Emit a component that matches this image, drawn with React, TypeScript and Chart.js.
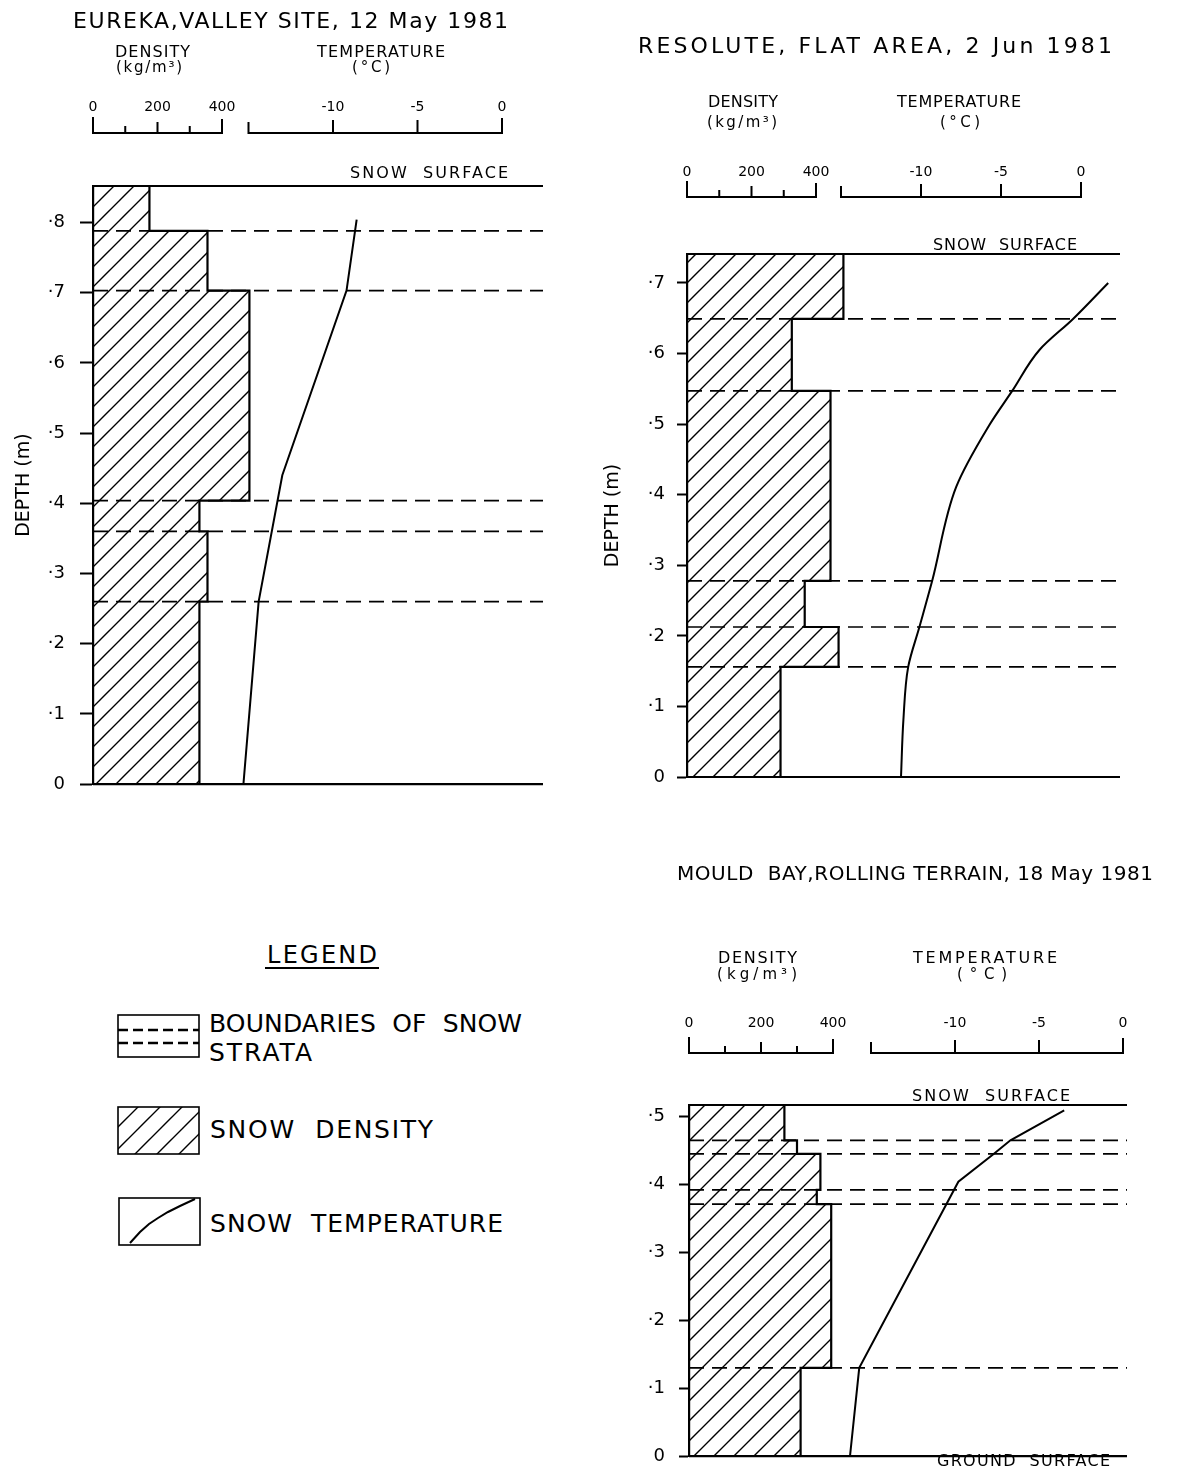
import React, { useEffect, useRef } from 'react';
import { Chart, registerables } from 'chart.js';

Chart.register(...registerables);

const FONT = '"DejaVu Sans", "Liberation Sans", sans-serif';

/* ---------------- data ---------------- */
// Eureka, valley site, 12 May 1981
const eurekaSurfaceDepth = 0.852;
const eurekaStrataBoundaries = [0.788, 0.703, 0.404, 0.36, 0.26];
const eurekaLayerDensities = [175, 355, 485, 330, 355, 330];
const eurekaTempDepths = [0.804, 0.703, 0.44, 0.26, 0];
const eurekaTemperatures = [-8.6, -9.2, -13.0, -14.4, -15.3];

// Resolute, flat area, 2 Jun 1981
const resoluteSurfaceDepth = 0.741;
const resoluteStrataBoundaries = [0.649, 0.547, 0.278, 0.2125, 0.156];
const resoluteLayerDensities = [485, 325, 445, 365, 470, 290];
const resoluteTempDepths = [0.7, 0.649, 0.605, 0.547, 0.496, 0.411, 0.278, 0.2125, 0.156, 0.081, 0];
const resoluteTemperatures = [1.7, -0.5, -2.6, -4.3, -5.8, -7.8, -9.3, -10.1, -10.8, -11.1, -11.25];

// Mould Bay, rolling terrain, 18 May 1981
const mouldSurfaceDepth = 0.517;
const mouldStrataBoundaries = [0.465, 0.445, 0.392, 0.371, 0.13];
const mouldLayerDensities = [265, 300, 365, 355, 395, 310];
const mouldTempDepths = [0.509, 0.465, 0.445, 0.404, 0.13, 0];
const mouldTemperatures = [-3.5, -6.7, -7.7, -9.8, -15.7, -16.25];

// ruler (top axis) ticks
const densityRulerTicks = [0, 100, 200, 300, 400];
const densityRulerLabels = [0, 200, 400];
const temperatureRulerTicks = [-15, -10, -5, 0];
const temperatureRulerLabels = [-10, -5, 0];
const depthTickStep = 0.1;

/* ---------------- layout / style ---------------- */
type TextBox = { text: string; x0: number; x1: number; y: number; size: number };
type Panel = {
  surface: number;
  boundaries: number[];
  densities: number[];
  tempDepths: number[];
  temps: number[];
  smooth: boolean;
  canvas: { left: number; top: number; width: number; height: number };
  area: { left: number; top: number; right: number; bottom: number };
  densityPx: number;
  tempZeroX: number;
  tempPx: number;
  yTickLen: number;
  yTickPad: number;
  yTitlePad: number | null;
  texts: TextBox[];
  rulerY: number;
  rulerLabelY: number;
  rulerFont: number;
};

const PANELS: Panel[] = [
  {
    surface: eurekaSurfaceDepth,
    boundaries: eurekaStrataBoundaries,
    densities: eurekaLayerDensities,
    tempDepths: eurekaTempDepths,
    temps: eurekaTemperatures,
    smooth: false,
    canvas: { left: 0, top: 0, width: 585, height: 810 },
    area: { left: 93, top: 186, right: 543, bottom: 785 },
    densityPx: 0.3225,
    tempZeroX: 502,
    tempPx: 16.9,
    yTickLen: 13,
    yTickPad: 15,
    yTitlePad: 12.6,
    texts: [
      { text: 'EUREKA,VALLEY SITE, 12 May 1981', x0: 73, x1: 508, y: 20, size: 22 },
      { text: 'DENSITY', x0: 115, x1: 190, y: 51, size: 16 },
      { text: '(kg/m³)', x0: 116, x1: 182, y: 67, size: 15 },
      { text: 'TEMPERATURE', x0: 317, x1: 445, y: 51, size: 16 },
      { text: '(°C)', x0: 352, x1: 390, y: 67, size: 15 },
      { text: 'SNOW  SURFACE', x0: 350, x1: 508, y: 172, size: 16 },
    ],
    rulerY: 133,
    rulerLabelY: 106,
    rulerFont: 14,
  },
  {
    surface: resoluteSurfaceDepth,
    boundaries: resoluteStrataBoundaries,
    densities: resoluteLayerDensities,
    tempDepths: resoluteTempDepths,
    temps: resoluteTemperatures,
    smooth: true,
    canvas: { left: 590, top: 0, width: 587, height: 800 },
    area: { left: 687, top: 254, right: 1120, bottom: 777 },
    densityPx: 0.3225,
    tempZeroX: 1081,
    tempPx: 16,
    yTickLen: 10,
    yTickPad: 12,
    yTitlePad: 11.6,
    texts: [
      { text: 'RESOLUTE, FLAT AREA, 2 Jun 1981', x0: 638, x1: 1112, y: 45, size: 22 },
      { text: 'DENSITY', x0: 708, x1: 778, y: 101, size: 16 },
      { text: '(kg/m³)', x0: 707, x1: 777, y: 122, size: 15 },
      { text: 'TEMPERATURE', x0: 897, x1: 1021, y: 101, size: 16 },
      { text: '(°C)', x0: 940, x1: 980, y: 122, size: 15 },
      { text: 'SNOW  SURFACE', x0: 933, x1: 1077, y: 244, size: 16 },
    ],
    rulerY: 197,
    rulerLabelY: 171,
    rulerFont: 14,
  },
  {
    surface: mouldSurfaceDepth,
    boundaries: mouldStrataBoundaries,
    densities: mouldLayerDensities,
    tempDepths: mouldTempDepths,
    temps: mouldTemperatures,
    smooth: false,
    canvas: { left: 590, top: 840, width: 587, height: 641 },
    area: { left: 689, top: 1105, right: 1127, bottom: 1470 },
    densityPx: 0.36,
    tempZeroX: 1123,
    tempPx: 16.8,
    yTickLen: 10,
    yTickPad: 14,
    yTitlePad: null,
    texts: [
      { text: 'MOULD  BAY,ROLLING TERRAIN, 18 May 1981', x0: 677, x1: 1153, y: 873, size: 20 },
      { text: 'DENSITY', x0: 718, x1: 797, y: 957, size: 16 },
      { text: '(kg/m³)', x0: 717, x1: 797, y: 974, size: 15 },
      { text: 'TEMPERATURE', x0: 913, x1: 1057, y: 957, size: 16 },
      { text: '(°C)', x0: 957, x1: 1007, y: 974, size: 15 },
      { text: 'SNOW  SURFACE', x0: 912, x1: 1070, y: 1095, size: 16 },
      { text: 'GROUND  SURFACE', x0: 937, x1: 1110, y: 1460, size: 16 },
    ],
    rulerY: 1053,
    rulerLabelY: 1022,
    rulerFont: 14,
  },
];

/* ---------------- helpers ---------------- */
function fitText(ctx: CanvasRenderingContext2D, text: string, x0: number, x1: number, yc: number, size: number) {
  ctx.save();
  ctx.font = `${size}px ${FONT}`;
  (ctx as any).letterSpacing = '0px';
  const w = ctx.measureText(text).width;
  const n = Array.from(text).length;
  const ls = n > 1 ? (x1 - x0 - w) / (n - 1) : 0;
  (ctx as any).letterSpacing = `${ls}px`;
  ctx.textAlign = 'left';
  ctx.textBaseline = 'alphabetic';
  ctx.fillText(text, x0, yc + 0.365 * size);
  (ctx as any).letterSpacing = '0px';
  ctx.restore();
}

function makeHatch(ctx: CanvasRenderingContext2D, s: number) {
  const c = document.createElement('canvas');
  c.width = s;
  c.height = s;
  const g = c.getContext('2d')!;
  g.strokeStyle = '#000';
  g.lineWidth = 1.4;
  g.beginPath();
  g.moveTo(-2, s + 2);
  g.lineTo(s + 2, -2);
  g.moveTo(-2, 2);
  g.lineTo(2, -2);
  g.moveTo(s - 2, s + 2);
  g.lineTo(s + 2, s - 2);
  g.stroke();
  return ctx.createPattern(c, 'repeat');
}

function fmtDepth(v: number) {
  if (Math.abs(v) < 1e-9) return '0';
  return '·' + Math.round(v * 10);
}

function drawDecor(chart: any, p: Panel) {
  const ctx: CanvasRenderingContext2D = chart.ctx;
  const ox = p.canvas.left;
  const oy = p.canvas.top;
  const xd = chart.scales.xd;
  const xt = chart.scales.xt;
  ctx.save();
  ctx.fillStyle = '#000';
  ctx.strokeStyle = '#000';
  for (const t of p.texts) fitText(ctx, t.text, t.x0 - ox, t.x1 - ox, t.y - oy, t.size);

  const yb = p.rulerY - oy;
  const yl = p.rulerLabelY - oy;
  ctx.lineWidth = 2;
  ctx.lineCap = 'square';
  // density ruler
  const d0 = xd.getPixelForValue(densityRulerTicks[0]);
  const d1 = xd.getPixelForValue(densityRulerTicks[densityRulerTicks.length - 1]);
  ctx.beginPath();
  ctx.moveTo(d0, yb);
  ctx.lineTo(d1, yb);
  for (const v of densityRulerTicks) {
    const x = xd.getPixelForValue(v);
    const h = v === 0 ? 15 : v === 400 ? 13 : v % 200 === 0 ? 10 : 6;
    ctx.moveTo(x, yb);
    ctx.lineTo(x, yb - h);
  }
  // temperature ruler
  const t0 = xt.getPixelForValue(temperatureRulerTicks[0]);
  const t1 = xt.getPixelForValue(temperatureRulerTicks[temperatureRulerTicks.length - 1]);
  ctx.moveTo(t0, yb);
  ctx.lineTo(t1, yb);
  for (const v of temperatureRulerTicks) {
    const x = xt.getPixelForValue(v);
    const h = v === temperatureRulerTicks[0] ? 10 : v === 0 ? 14 : 12;
    ctx.moveTo(x, yb);
    ctx.lineTo(x, yb - h);
  }
  ctx.stroke();

  ctx.font = `${p.rulerFont}px ${FONT}`;
  ctx.textAlign = 'center';
  ctx.textBaseline = 'alphabetic';
  for (const v of densityRulerLabels) {
    ctx.fillText(String(v), xd.getPixelForValue(v), yl + 0.365 * p.rulerFont);
  }
  for (const v of temperatureRulerLabels) {
    ctx.fillText(String(v), xt.getPixelForValue(v), yl + 0.365 * p.rulerFont);
  }
  ctx.restore();
}

function PanelChart({ p }: { p: Panel }) {
  const ref = useRef<HTMLCanvasElement>(null);
  useEffect(() => {
    const canvas = ref.current!;
    const ctx = canvas.getContext('2d')!;
    const hatch = makeHatch(ctx, 20);
    const areaW = p.area.right - p.area.left;
    const xdMax = areaW / p.densityPx;
    const xtMin = (p.area.left - p.tempZeroX) / p.tempPx;
    const xtMax = (p.area.right - p.tempZeroX) / p.tempPx;
    const last = p.densities.length - 1;
    const densityPts = [
      { x: 0, y: p.surface },
      ...p.densities.map((d, i) => ({ x: d, y: i === 0 ? p.surface : p.boundaries[i - 1] })),
      { x: p.densities[last], y: 0 },
    ];
    const tempPts = p.temps.map((t, i) => ({ x: t, y: p.tempDepths[i] }));
    const hline = (d: number) => [
      { x: xtMin, y: d },
      { x: xtMax, y: d },
    ];
    const base = { yAxisID: 'y', pointRadius: 0, clip: false, borderColor: '#000', fill: false };
    const datasets: any[] = [
      {
        ...base,
        label: 'Snow density',
        xAxisID: 'xd',
        data: densityPts,
        stepped: 'after',
        fill: 'origin',
        backgroundColor: hatch,
        borderWidth: 2.2,
        order: 10,
      },
      ...p.boundaries.map((b) => ({
        ...base,
        label: 'Boundary of snow strata',
        xAxisID: 'xt',
        data: hline(b),
        borderDash: [15, 8],
        borderWidth: 1.7,
        order: 5,
      })),
      { ...base, label: 'Snow surface', xAxisID: 'xt', data: hline(p.surface), borderWidth: 1.8, order: 4 },
      { ...base, label: 'Ground surface', xAxisID: 'xt', data: hline(0), borderWidth: 2.2, order: 4 },
      {
        ...base,
        label: 'Snow temperature',
        xAxisID: 'xt',
        data: tempPts,
        borderWidth: 2,
        tension: p.smooth ? 0.4 : 0,
        cubicInterpolationMode: p.smooth ? 'monotone' : 'default',
        order: 1,
      },
    ];
    const W = p.area.left - p.canvas.left;
    const chart = new Chart(ctx, {
      type: 'line',
      data: { datasets },
      options: {
        animation: false,
        responsive: false,
        indexAxis: 'y',
        events: [],
        layout: {
          padding: {
            left: 0,
            top: p.area.top - p.canvas.top,
            right: p.canvas.left + p.canvas.width - p.area.right,
            bottom: p.canvas.top + p.canvas.height - p.area.bottom,
          },
        },
        plugins: {
          legend: { display: false },
          tooltip: { enabled: false },
          title: { display: false },
        },
        scales: {
          y: {
            type: 'linear',
            position: 'left',
            min: 0,
            max: p.surface,
            afterFit: (s: any) => {
              s.width = W;
            },
            border: { display: true, color: '#000', width: 2.2 },
            grid: {
              display: true,
              drawOnChartArea: false,
              drawTicks: true,
              tickLength: p.yTickLen,
              tickWidth: 2,
              tickColor: '#000',
              color: '#000',
            },
            ticks: {
              stepSize: depthTickStep,
              includeBounds: false,
              autoSkip: false,
              padding: p.yTickPad,
              color: '#000',
              font: { family: FONT, size: 18 },
              callback: (v: any) => fmtDepth(Number(v)),
            },
            title:
              p.yTitlePad !== null
                ? {
                    display: true,
                    text: 'DEPTH (m)',
                    color: '#000',
                    font: { family: FONT, size: 19 },
                    padding: { top: p.yTitlePad, bottom: 0 },
                  }
                : { display: false },
          },
          xd: { type: 'linear', axis: 'x', display: false, min: 0, max: xdMax },
          xt: { type: 'linear', axis: 'x', display: false, min: xtMin, max: xtMax },
        },
      } as any,
      plugins: [{ id: 'decor', afterDraw: (c: any) => drawDecor(c, p) }],
    });
    return () => chart.destroy();
  }, [p]);
  return (
    <canvas
      ref={ref}
      width={p.canvas.width}
      height={p.canvas.height}
      style={{
        position: 'absolute',
        left: p.canvas.left,
        top: p.canvas.top,
        width: p.canvas.width,
        height: p.canvas.height,
      }}
    />
  );
}

/* ---------------- legend (HTML / SVG) ---------------- */
let measureCtx: CanvasRenderingContext2D | null = null;
function spacingFor(text: string, size: number, width: number) {
  if (!measureCtx) measureCtx = document.createElement('canvas').getContext('2d');
  if (!measureCtx) return 0;
  measureCtx.font = `${size}px ${FONT}`;
  const w = measureCtx.measureText(text).width;
  const n = Array.from(text).length;
  return n > 1 ? (width - w) / (n - 1) : 0;
}

function FitSpan({ text, x0, x1, y, size }: TextBox) {
  const ls = spacingFor(text, size, x1 - x0);
  return (
    <div
      style={{
        position: 'absolute',
        left: x0,
        top: y - 0.48 * size,
        fontFamily: FONT,
        fontSize: size,
        lineHeight: 1,
        letterSpacing: ls,
        whiteSpace: 'pre',
        color: '#000',
      }}
    >
      {text}
    </div>
  );
}

const legendTexts: TextBox[] = [
  { text: 'BOUNDARIES  OF  SNOW', x0: 209, x1: 522, y: 1023, size: 25 },
  { text: 'STRATA', x0: 209, x1: 312, y: 1052, size: 25 },
  { text: 'SNOW  DENSITY', x0: 210, x1: 433, y: 1129, size: 25 },
  { text: 'SNOW  TEMPERATURE', x0: 210, x1: 503, y: 1223, size: 25 },
];

function Legend() {
  return (
    <>
      <FitSpan text="LEGEND" x0={267} x1={377} y={955} size={24} />
      <div style={{ position: 'absolute', left: 265, top: 967, width: 114, height: 2, background: '#000' }} />
      <svg style={{ position: 'absolute', left: 117, top: 1014 }} width={84} height={45}>
        <rect x={1} y={1} width={81} height={42} fill="#fff" stroke="#000" strokeWidth={1.6} />
        <line x1={1} y1={16} x2={82} y2={16} stroke="#000" strokeWidth={2.4} strokeDasharray="10 5" />
        <line x1={1} y1={29} x2={82} y2={29} stroke="#000" strokeWidth={2.4} strokeDasharray="10 5" />
      </svg>
      <svg style={{ position: 'absolute', left: 117, top: 1106 }} width={84} height={50}>
        <defs>
          <pattern id="legendHatch" width={22} height={22} patternUnits="userSpaceOnUse">
            <path d="M-2,24 L24,-2 M-2,2 L2,-2 M20,24 L24,20" stroke="#000" strokeWidth={1.4} />
          </pattern>
        </defs>
        <rect x={1} y={1} width={81} height={47} fill="url(#legendHatch)" stroke="#000" strokeWidth={1.6} />
      </svg>
      <svg style={{ position: 'absolute', left: 118, top: 1197 }} width={84} height={50}>
        <rect x={1} y={1} width={81} height={47} fill="#fff" stroke="#000" strokeWidth={1.6} />
        <polyline
          points="12,46 22,35 31,27 40,21 50,15 62,9 77,2"
          fill="none"
          stroke="#000"
          strokeWidth={2}
        />
      </svg>
      {legendTexts.map((t, i) => (
        <FitSpan key={i} {...t} />
      ))}
    </>
  );
}

export default function App() {
  return (
    <div
      style={{
        position: 'absolute',
        left: 0,
        top: 0,
        width: 1177,
        height: 1481,
        background: '#fff',
        overflow: 'hidden',
      }}
    >
      {PANELS.map((p, i) => (
        <PanelChart key={i} p={p} />
      ))}
      <Legend />
    </div>
  );
}
